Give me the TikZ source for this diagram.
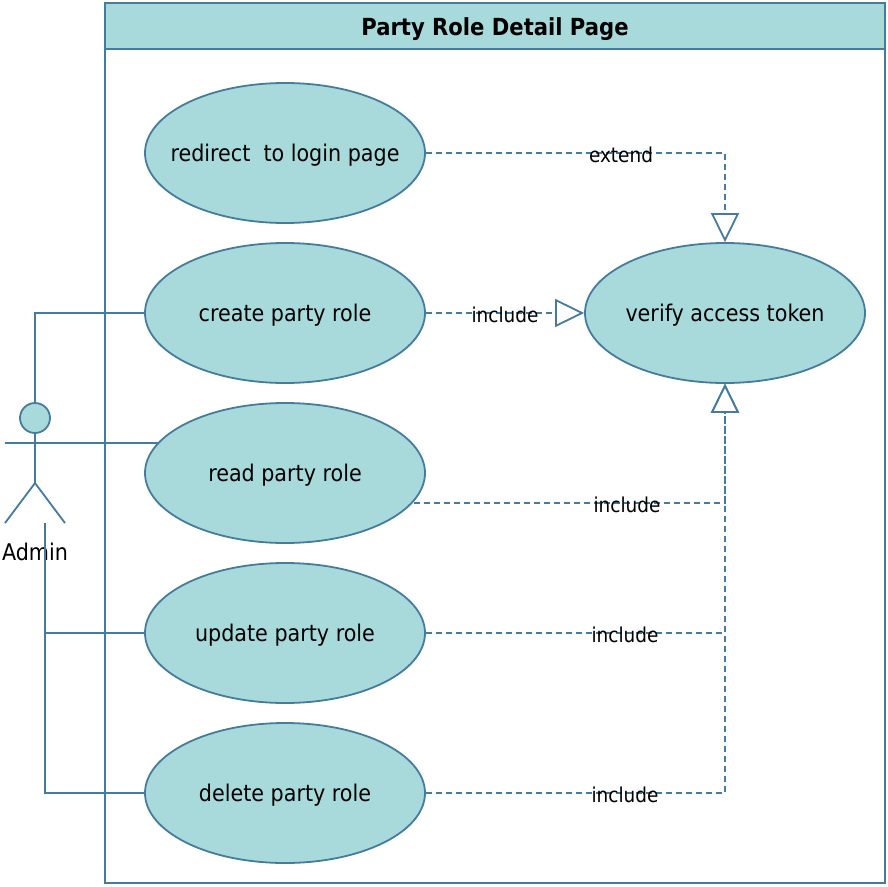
\documentclass[tikz,border=0pt]{standalone}
\usepackage{fontspec}
\setmainfont{DejaVu Sans Condensed}
\usetikzlibrary{arrows.meta,shapes.geometric}
\definecolor{tealfill}{HTML}{A8DADC}
\definecolor{steelline}{HTML}{457B9D}
\tikzset{
  usecase/.style={draw=steelline,fill=tealfill,line width=1.8pt,ellipse,minimum width=280pt,minimum height=140pt,inner xsep=-40pt,inner ysep=0pt,text height=16pt,text depth=0pt,font=\fontsize{23}{27}\selectfont},
  assoc/.style={draw=steelline,line width=1.8pt},
  depend/.style={draw=steelline,line width=1.8pt,dash pattern=on 6pt off 4pt,-{Triangle[open,length=29pt,width=28pt,line width=1.8pt,fill=white]}},
  deplabel/.style={font=\fontsize{20.5}{24}\selectfont,inner sep=0pt,text height=17pt,text depth=0pt,text=black}
}
\begin{document}
\begin{tikzpicture}[x=1pt,y=-1pt]
  \useasboundingbox (0,0) rectangle (888,886);

  % system frame
  \node (frame) at (495,443) [draw=steelline,line width=1.8pt,minimum width=780pt,minimum height=880pt,inner sep=0pt] {};
  \node (title) at (495,26) [draw=steelline,fill=tealfill,line width=1.8pt,minimum width=780pt,minimum height=46pt,inner sep=0pt,text height=18pt,text depth=0pt,font=\fontsize{23.5}{27}\selectfont\bfseries] {Party Role Detail Page};

  % use cases
  \node (redirect) at (285,153) [usecase] {redirect\ \ to login page};
  \node (create) at (285,313) [usecase] {create party role};
  \node (read) at (285,473) [usecase] {read party role};
  \node (update) at (285,633) [usecase] {update party role};
  \node (delete) at (285,793) [usecase] {delete party role};
  \node (verify) at (725,313) [usecase] {verify access token};

  % actor
  \node (head) at (35,418) [circle,draw=steelline,fill=tealfill,line width=1.8pt,minimum size=30pt,inner sep=0pt] {};
  \coordinate (hip) at (35,483);
  \coordinate (armL) at (5,443);
  \coordinate (armR) at (65,443);
  \coordinate (footL) at (5,523);
  \coordinate (footR) at (65,523);
  \coordinate (stub) at (45,523);
  \coordinate (readend) at (158,443);
  \coordinate (readout) at (412,503);
  \draw[assoc] (head) -- (hip);
  \draw[assoc] (armL) -- (armR);
  \draw[assoc] (footL) -- (hip) -- (footR);
  \node (admin) at (35,551) [font=\fontsize{23}{27}\selectfont,inner sep=0pt,text height=18pt,text depth=0pt] {Admin};

  % associations
  \draw[assoc] (head.north) |- (create.west);
  \draw[assoc] (armR) -- (readend);
  \draw[assoc] (stub) |- (update.west);
  \draw[assoc] (stub) |- (delete.west);

  % dependencies
  \draw[depend] (redirect.east) -| (verify.north);
  \draw[depend] (create.east) -- (verify.west);
  \draw[depend,dash phase=8pt] (readout) -| (verify.south);
  \draw[depend] (update.east) -| (verify.south);
  \draw[depend] (delete.east) -| (verify.south);

  \node (extendlbl) at (621,154) [deplabel] {extend};
  \node (includecreate) at (505,314) [deplabel] {include};
  \node (includeread) at (627,504) [deplabel] {include};
  \node (includeupdate) at (625,634) [deplabel] {include};
  \node (includedelete) at (625,794) [deplabel] {include};
\end{tikzpicture}
\end{document}
